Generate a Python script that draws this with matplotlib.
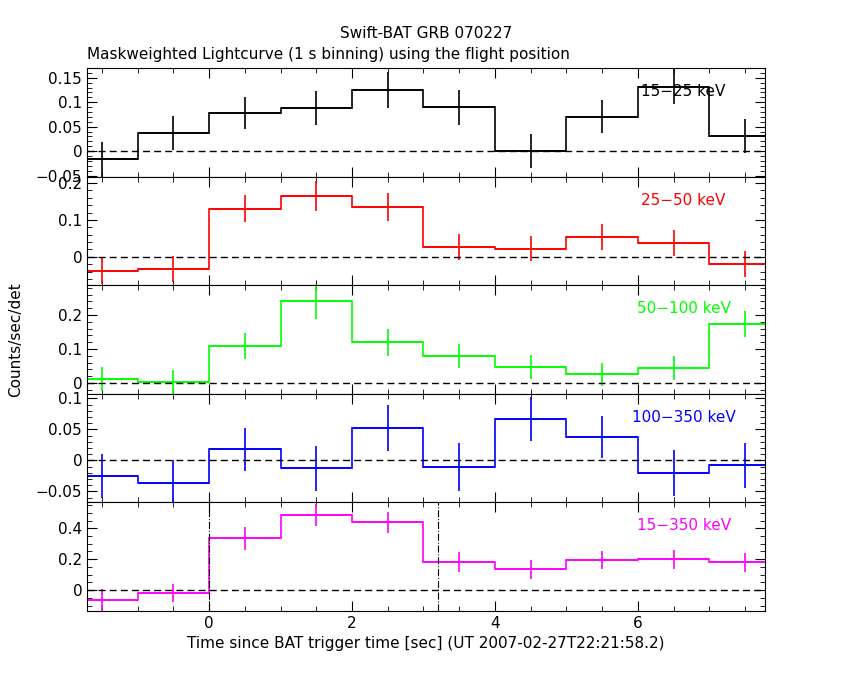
import matplotlib
matplotlib.use("Agg")
import matplotlib.pyplot as plt
import numpy as np

t = [-1.5, -0.5, 0.5, 1.5, 2.5, 3.5, 4.5, 5.5, 6.5, 7.5]
r1 = [-0.017, 0.037, 0.078, 0.088, 0.125, 0.09, 0.0, 0.07, 0.132, 0.031]
e1 = [0.035, 0.034, 0.033, 0.035, 0.037, 0.036, 0.035, 0.034, 0.036, 0.034]
r2 = [-0.038, -0.032, 0.13, 0.165, 0.135, 0.027, 0.022, 0.054, 0.038, -0.019]
e2 = [0.035, 0.035, 0.037, 0.04, 0.037, 0.035, 0.034, 0.035, 0.036, 0.035]
r3 = [0.012, 0.003, 0.109, 0.24, 0.12, 0.079, 0.047, 0.026, 0.044, 0.174]
e3 = [0.035, 0.034, 0.037, 0.052, 0.04, 0.036, 0.035, 0.034, 0.036, 0.038]
r4 = [-0.025, -0.036, 0.018, -0.013, 0.052, -0.011, 0.067, 0.038, -0.02, -0.008]
e4 = [0.036, 0.037, 0.035, 0.037, 0.037, 0.039, 0.035, 0.034, 0.037, 0.036]
r5 = [-0.065, -0.02, 0.335, 0.484, 0.44, 0.18, 0.135, 0.195, 0.2, 0.18]
e5 = [0.07, 0.06, 0.075, 0.07, 0.068, 0.065, 0.062, 0.06, 0.062, 0.06]

panels = [
    (r1, e1, "black", "15\u221225 keV", (-0.053, 0.17), [-0.05, 0, 0.05, 0.1, 0.15], ["\u22120.05", "0", "0.05", "0.1", "0.15"]),
    (r2, e2, "red", "25\u221250 keV", (-0.076, 0.216), [0, 0.1, 0.2], ["0", "0.1", "0.2"]),
    (r3, e3, "#00ff00", "50\u2212100 keV", (-0.032, 0.288), [0, 0.1, 0.2], ["0", "0.1", "0.2"]),
    (r4, e4, "blue", "100\u2212350 keV", (-0.067, 0.107), [-0.05, 0, 0.05, 0.1], ["\u22120.05", "0", "0.05", "0.1"]),
    (r5, e5, "magenta", "15\u2212350 keV", (-0.135, 0.57), [0, 0.2, 0.4], ["0", "0.2", "0.4"]),
]

fig = plt.figure(figsize=(8.5, 6.8), dpi=100)
W, H = 850, 680
left, right = 87 / W, 765 / W
tops = [68, 177, 285, 394, 502]
bots = [177, 285, 394, 502, 611]
axes = []
for i, (r, e, c, lab, yl, yt, ytl) in enumerate(panels):
    ax = fig.add_axes([left, 1 - bots[i] / H, right - left, (bots[i] - tops[i]) / H])
    edges = np.array(t) - 0.5
    ax.stairs(r, np.append(edges, edges[-1] + 1), color=c, lw=1.2, baseline=None)
    ax.errorbar(t, r, yerr=e, xerr=0.5, fmt="none", ecolor=c, elinewidth=1.2, capsize=0)
    ax.axhline(0, color="black", ls=(0, (5, 3)), lw=1)
    ax.set_xlim(-1.71, 7.78)
    ax.set_ylim(*yl)
    ax.set_yticks(yt)
    ax.set_yticklabels(ytl)
    ax.minorticks_on()
    ax.tick_params(which="both", direction="in", top=True, right=True, labelsize=11)
    ax.tick_params(which="major", length=7)
    ax.tick_params(which="minor", length=3.5)
    ax.set_xticks([0, 2, 4, 6])
    if i < 4:
        ax.set_xticklabels([])
    ax.text(0.88, 0.78, lab, transform=ax.transAxes, color=c, fontsize=11, ha="center", va="center")
    axes.append(ax)

axes[4].axvline(0, color="black", ls="-.", lw=0.8)
axes[4].axvline(3.2, color="black", ls="-.", lw=0.8)
axes[4].set_xlabel("Time since BAT trigger time [sec] (UT 2007-02-27T22:21:58.2)", fontsize=11)
fig.text(0.018, 0.5, "Counts/sec/det", rotation=90, va="center", ha="center", fontsize=11)
fig.text((left + right) / 2, 1 - 34 / H, "Swift-BAT GRB 070227", ha="center", va="center", fontsize=11)
fig.text(left, 1 - 54 / H, "Maskweighted Lightcurve (1 s binning) using the flight position", ha="left", va="center", fontsize=11)
fig.savefig("out.png", dpi=100)
